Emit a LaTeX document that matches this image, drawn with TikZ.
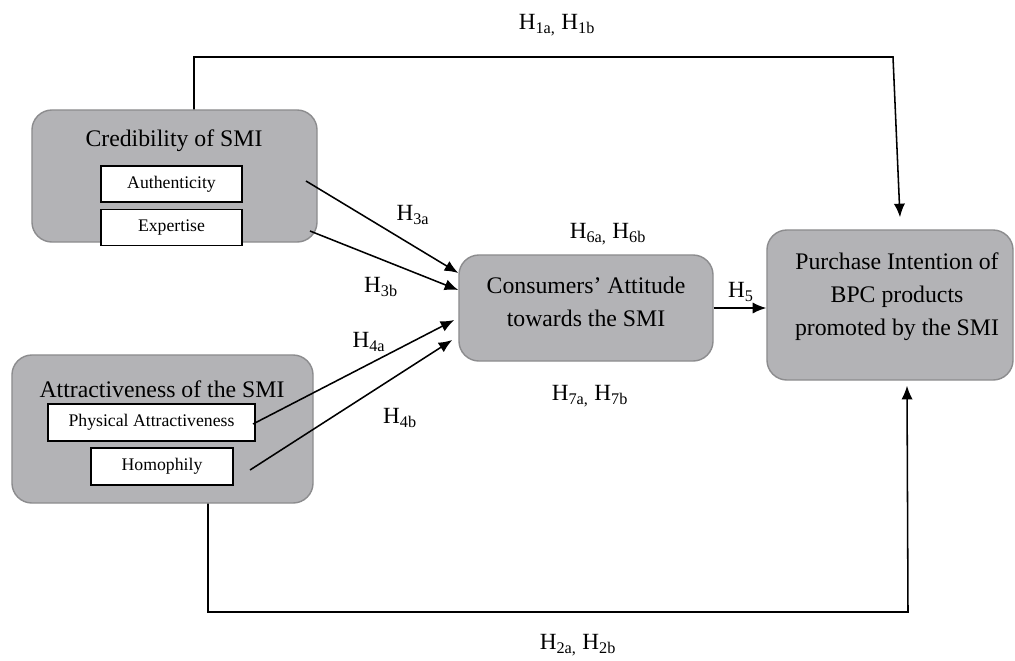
\documentclass[tikz,border=0pt]{standalone}
\usepackage{fontspec}
\setmainfont{Liberation Serif}
\usepackage{xcolor}
\usetikzlibrary{arrows.meta}

\definecolor{boxgray}{RGB}{179,179,182}
\definecolor{boxedge}{RGB}{140,140,142}
\newcommand{\hyp}[1]{H\textsubscript{#1}}

\tikzset{
    bigbox/.style={draw=boxedge, fill=boxgray, line width=1pt, rounded corners=0.5cm},
    subbox/.style={draw=black, fill=white, line width=1.1pt, inner sep=0pt, font=\fontsize{12.6}{15}\selectfont},
    bigtext/.style={font=\fontsize{16.9}{23.5}\selectfont, align=center},
    hlabel/.style={font=\fontsize{16.5}{20}\selectfont}
}

\begin{document}
\begin{tikzpicture}[x=0.025cm, y=-0.025cm, >={Latex[length=3.4mm,width=2.8mm]}, line width=1.1pt]

        \useasboundingbox (0,0) rectangle (1015,660);

        %Credibility of SMI
        \node[bigbox, minimum width=7.125cm, minimum height=3.3cm] (cred) at (174.5,176) {};
        \node[bigtext] (credT) at (174,141) {Credibility of SMI};
        \node[subbox, minimum width=3.525cm, minimum height=0.9cm] (auth) at (171.5,184) {Authenticity};
        \node[subbox, minimum width=3.525cm, minimum height=0.9cm] (expt) at (171.5,227.5) {Expertise};

        %Attractiveness of the SMI
        \node[bigbox, minimum width=7.525cm, minimum height=3.7cm] (attr) at (162.5,429) {};
        \node[bigtext] (attrT) at (162,389) {Attractiveness of the SMI};
        \node[subbox, minimum width=5.175cm, minimum height=0.925cm] (phys) at (151.5,422.5) {Physical Attractiveness};
        \node[subbox, minimum width=3.55cm, minimum height=0.925cm] (homo) at (162,466.5) {Homophily};

        %Consumers attitude
        \node[bigbox, minimum width=6.35cm, minimum height=2.65cm] (cons) at (586,308) {};
        \node[bigtext] (consT) at (586,301.5) {Consumers’ Attitude\\towards the SMI};

        %Purchase intention
        \node[bigbox, minimum width=6.15cm, minimum height=3.75cm] (purc) at (890,305) {};
        \node[bigtext] (purcT) at (897,297) {Purchase Intention of\\BPC products\\promoted by the SMI};

        %Start points of the arrows into the attitude box
        \coordinate (sAuth) at (306,181);
        \coordinate (sExpt) at (310,231);
        \coordinate (sPhys) at (253,424);
        \coordinate (sHomo) at (250,470);

        \draw[->] (sAuth) -- ([yshift=0.875cm]cons.west);
        \draw[->] (sExpt) -- ([yshift=0.45cm]cons.west);
        \draw[->] (sPhys) -- ([xshift=-0.1cm,yshift=-0.3cm]cons.west);
        \draw[->] (sHomo) -- ([xshift=-0.15cm,yshift=-0.8cm]cons.west);

        %Attitude to purchase intention
        \draw[->] (cons.east) -- (purc.west |- cons.east);

        %Line over the top, credibility to purchase intention
        \coordinate (topL) at (194,57);
        \coordinate (topR) at (893,57);
        \draw[->] (cred.north -| topL) -- (topL) -- (topR) -- ([xshift=0.25cm,yshift=0.3cm]purc.north);

        %Line under the bottom, attractiveness to purchase intention
        \coordinate (botL) at (208,612);
        \coordinate (botR) at (908,612);
        \draw[->] (attr.south -| botL) -- (botL) -- (botR) -- ([xshift=0.425cm,yshift=-0.125cm]purc.south);

        %Hypothesis labels
        \node[hlabel] (h1) at (557,25) {\hyp{1a,} \hyp{1b}};
        \node[hlabel] (h2) at (578,645) {\hyp{2a,} \hyp{2b}};
        \node[hlabel] (h3a) at (413,215) {\hyp{3a}};
        \node[hlabel] (h3b) at (381,287) {\hyp{3b}};
        \node[hlabel] (h4a) at (369,342) {\hyp{4a}};
        \node[hlabel] (h4b) at (400,418) {\hyp{4b}};
        \node[hlabel] (h5) at (741,292) {\hyp{5}};
        \node[hlabel] (h6) at (608,234) {\hyp{6a,} \hyp{6b}};
        \node[hlabel] (h7) at (590,396) {\hyp{7a,} \hyp{7b}};

\end{tikzpicture}
\end{document}
